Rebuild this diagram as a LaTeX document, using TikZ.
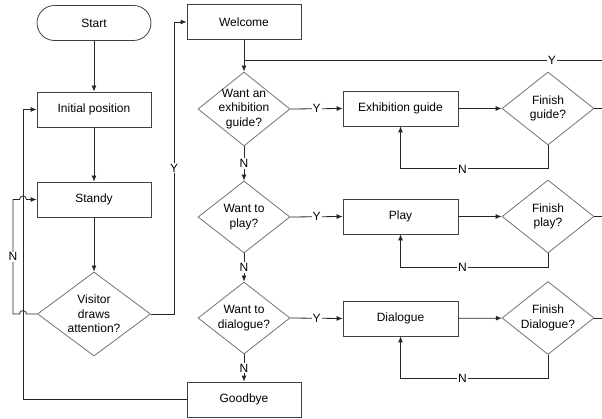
\documentclass[tikz,border=0pt]{standalone}
\usepackage{fontspec}
\setmainfont{Liberation Sans}
\usetikzlibrary{arrows.meta,shapes.geometric}
\begin{document}
\begin{tikzpicture}[x=1pt,y=-1pt,
  font=\fontsize{12}{14.5}\selectfont,
  line width=0.8pt,
  boxnode/.style={draw=black!75,rectangle,minimum width=114pt,minimum height=35pt,inner sep=0pt},
  termnode/.style={boxnode,rounded corners=17.5pt},
  dianode/.style={draw=black!55,diamond,inner sep=0pt,minimum width=92pt,minimum height=73pt},
  dtext/.style={align=center,inner sep=0pt},
  arr/.style={draw=black!85,-{Latex[length=6pt,width=5pt]}},
  conn/.style={draw=black!85},
  lab/.style={fill=white,inner sep=1pt}
]
\useasboundingbox (0,0) rectangle (602,419);

% left column
\node[termnode] (start) at (94,23) {Start};
\node[boxnode] (init) at (94,109.5) {Initial position};
\node[boxnode] (standy) at (94,199.5) {Standy};
\node[dianode,minimum width=113pt,minimum height=84pt] (visitor) at (94,314) {};
\node[dtext] (visitort) at (94,314) {Visitor\\draws\\attention?};

% middle column
\node[boxnode] (welcome) at (244,22) {Welcome};
\node[dianode,minimum height=74pt] (d1) at (244,109) {};
\node[dtext] (d1t) at (244,109) {Want an\\exhibition\\guide?};
\node[dianode,minimum height=72pt] (d2) at (244,217) {};
\node[dtext] (d2t) at (244,217) {Want to\\play?};
\node[dianode,minimum height=72pt] (d3) at (244,318) {};
\node[dtext] (d3t) at (244,318) {Want to\\dialogue?};
\node[boxnode] (goodbye) at (244,399.5) {Goodbye};

% activity boxes
\node[boxnode,minimum width=115pt] (b1) at (400.5,108.5) {Exhibition guide};
\node[boxnode,minimum width=115pt] (b2) at (400.5,216.5) {Play};
\node[boxnode,minimum width=115pt] (b3) at (400.5,318.5) {Dialogue};

% finish diamonds
\node[dianode] (f1) at (548,108.5) {};
\node[dtext] (f1t) at (548,108.5) {Finish\\guide?};
\node[dianode] (f2) at (548,216.5) {};
\node[dtext] (f2t) at (548,216.5) {Finish\\play?};
\node[dianode] (f3) at (548,318) {};
\node[dtext] (f3t) at (548,318) {Finish\\Dialogue?};

% coordinates at the right edge
\coordinate (eY) at (602,60);
\coordinate (jn) at (244,60);
\coordinate (e1) at (602,108.5);
\coordinate (e2) at (602,216.5);
\coordinate (e3) at (602,318);

% left column flow
\draw[arr] (start) -- (init);
\draw[arr] (init) -- (standy);
\draw[arr] (standy) -- (visitor);
\draw[arr] (goodbye.west) -- (23,399.5) -- (23,109.5) -- (init.west);
\draw[arr] (visitor.west) -- (26.5,314) .. controls (26.5,309.5) and (19.5,309.5) .. (19.5,314)
  -- (13,314) -- node[lab]{N} (13,199.5) -- (19.5,199.5)
  .. controls (19.5,195) and (26.5,195) .. (26.5,199.5) -- (standy.west);
\draw[arr] (visitor.east) -- (174,314) -- node[lab]{Y} (174,22) -- (welcome.west);

% middle column flow
\draw[arr] (welcome) -- (d1);
\draw[conn] (eY) -- node[lab,pos=0.14]{Y} (jn);
\draw[arr] (d1) -- node[lab]{N} (d2);
\draw[arr] (d2) -- node[lab]{N} (d3);
\draw[arr] (d3) -- node[lab]{N} (goodbye);

\draw[arr] (d1.east) -- node[lab]{Y} (b1.west);
\draw[arr] (d2.east) -- node[lab]{Y} (b2.west);
\draw[arr] (d3.east) -- node[lab]{Y} (b3.west);

\draw[arr] (b1) -- (f1);
\draw[arr] (b2) -- (f2);
\draw[arr] (b3) -- (f3);

\draw[arr] (f1.south) -- ++(0,23.5) -| node[lab,pos=0.29]{N} (b1.south);
\draw[arr] (f2.south) -- ++(0,14) -| node[lab,pos=0.29]{N} (b2.south);
\draw[arr] (f3.south) -- ++(0,23.5) -| node[lab,pos=0.29]{N} (b3.south);

\draw[conn] (f1.east) -- (e1);
\draw[conn] (f2.east) -- (e2);
\draw[conn] (f3.east) -- (e3);
\end{tikzpicture}
\end{document}
